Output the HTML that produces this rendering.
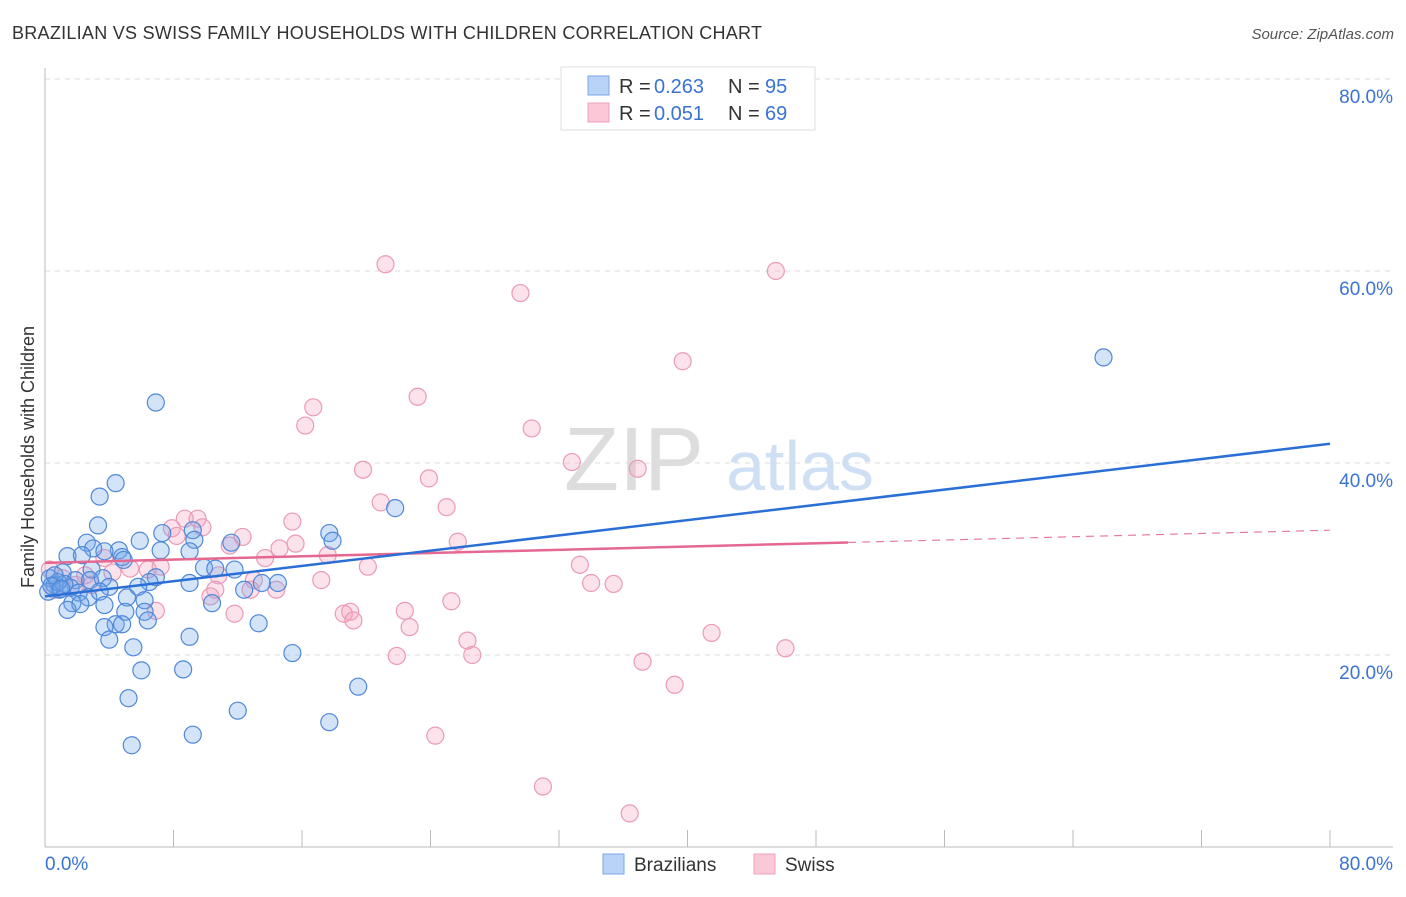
<!DOCTYPE html>
<html><head><meta charset="utf-8"><style>
body{margin:0;background:#fff;font-family:"Liberation Sans",sans-serif}
svg text{font-family:"Liberation Sans",sans-serif}
</style></head><body>
<svg width="1406" height="892" xmlns="http://www.w3.org/2000/svg">
<text x="12" y="39" font-size="18" fill="#333" textLength="750">BRAZILIAN VS SWISS FAMILY HOUSEHOLDS WITH CHILDREN CORRELATION CHART</text>
<text x="1394" y="39" font-size="15" fill="#555" font-style="italic" text-anchor="end">Source: ZipAtlas.com</text>
<text x="634" y="490" font-size="90" fill="#ddd" font-family="Liberation Serif" text-anchor="middle">ZIP</text>
<text x="800" y="490" font-size="70" fill="#cfe0f5" text-anchor="middle">atlas</text>
<g id="grid"></g>
<g id="axes"></g>
<g id="marks"></g>
<text transform="translate(34,457) rotate(-90)" font-size="18" fill="#333" text-anchor="middle">Family Households with Children</text>
<g>
<rect x="561" y="67" width="254" height="63" fill="#fff" stroke="#ddd"/>
<rect x="588" y="76" width="21" height="19" fill="#b9d3f7" stroke="#7aa7e6"/>
<rect x="588" y="103" width="21" height="19" fill="#fbc8d8" stroke="#efa0bb"/>
<text x="619" y="93" font-size="20" fill="#333">R = </text><text x="654" y="93" font-size="20" fill="#3a73d3">0.263</text>
<text x="728" y="93" font-size="20" fill="#333">N = </text><text x="765" y="93" font-size="20" fill="#3a73d3">95</text>
<text x="619" y="120" font-size="20" fill="#333">R = </text><text x="654" y="120" font-size="20" fill="#3a73d3">0.051</text>
<text x="728" y="120" font-size="20" fill="#333">N = </text><text x="765" y="120" font-size="20" fill="#3a73d3">69</text>
</g>
<g>
<rect x="603" y="854" width="21" height="20" fill="#b9d3f7" stroke="#7aa7e6"/>
<text x="634" y="871" font-size="19" fill="#333">Brazilians</text>
<rect x="754" y="854" width="21" height="20" fill="#fbc8d8" stroke="#efa0bb"/>
<text x="785" y="871" font-size="19" fill="#333">Swiss</text>
</g>
</svg>
<script>
const yTicks=[20,40,60,80];
const yTickLabels=["20.0%","40.0%","60.0%","80.0%"];
const xTicks=[0,8,16,24,32,40,48,56,64,72,80];
const blueX=[65.9,6.9,4.4,3.4,21.8,3.3,17.7,7.3,17.9,9.2,9.3,5.9,11.6,2.6,3.0,4.6,3.7,7.2,9.0,1.4,2.3,4.8,4.9,9.9,10.6,11.8,2.9,1.1,6.9,9.0,6.5,14.5,13.5,1.9,2.8,3.6,0.3,0.6,0.9,1.6,4.0,5.8,0.2,12.4,0.8,1.2,2.1,2.7,3.4,5.1,6.2,1.7,2.2,3.7,10.4,1.4,5.0,6.2,6.4,4.4,4.8,3.7,13.3,9.0,4.0,5.5,15.4,6.0,8.6,19.5,5.2,12.0,17.7,9.2,5.4,0.6,0.4,1.0];
const blueY=[51.0,46.3,37.9,36.5,35.3,33.5,32.7,32.7,31.9,33.0,32.0,31.9,31.7,31.7,31.1,30.9,30.8,30.9,30.8,30.3,30.4,30.2,29.9,29.1,29.0,28.9,28.9,28.6,28.1,27.5,27.6,27.5,27.5,27.8,27.8,28.0,28.0,27.3,26.8,27.0,27.1,27.1,26.6,26.8,27.6,27.4,26.5,26.0,26.6,26.0,25.7,25.4,25.3,25.2,25.4,24.7,24.5,24.5,23.6,23.2,23.2,22.9,23.3,21.9,21.6,20.8,20.2,18.4,18.5,16.7,15.5,14.2,13.0,11.7,10.6,28.3,27.2,26.9];
const pinkX=[21.2,45.5,29.6,39.7,23.2,16.7,16.2,30.3,32.8,19.8,36.9,23.9,20.9,25.0,8.7,9.5,15.4,7.9,9.8,8.2,12.3,25.7,15.6,11.5,14.6,17.6,13.7,3.7,33.3,20.1,7.2,5.3,4.2,6.4,0.3,10.8,17.2,13.0,34.0,35.4,2.9,12.8,14.4,10.6,10.3,25.3,19.0,22.4,18.6,11.8,6.9,19.2,22.7,41.5,26.3,26.6,46.1,21.9,37.2,39.2,24.3,31.0,36.4,1.1,1.9,0.6,2.5];
const pinkY=[60.7,60.0,57.7,50.6,46.9,45.8,43.9,43.6,40.1,39.3,39.4,38.4,35.9,35.4,34.2,34.2,33.9,33.2,33.3,32.4,32.3,31.8,31.6,31.4,31.1,30.4,30.1,30.1,29.4,29.2,29.2,29.0,28.6,28.9,28.9,28.3,27.8,27.8,27.5,27.4,27.3,26.8,26.8,26.8,26.1,25.6,24.5,24.6,24.3,24.3,24.6,23.6,22.9,22.3,21.5,20.0,20.7,19.9,19.3,16.9,11.6,6.3,3.5,28.0,27.3,26.8,28.3];
const blueTrend=[26.1,42.0];
const pinkTrend=[29.6,33.0];
const pinkSolidEnd=50;
const X=v=>45+v*1285/80, Y=v=>847-v*9.6;
const NS="http://www.w3.org/2000/svg";
function mk(p,t,a){const e=document.createElementNS(NS,t);for(const k in a)e.setAttribute(k,a[k]);p.appendChild(e);return e;}
const grid=document.getElementById('grid'),axes=document.getElementById('axes'),marks=document.getElementById('marks');
yTicks.forEach((t,i)=>{
 const l=mk(grid,'line',{x1:45,x2:1393,y1:Y(t),y2:Y(t),stroke:'#ddd','stroke-dasharray':'5,5'});
 
 
 const tx=mk(grid,'text',{x:1393,y:Y(t)+24,'font-size':19,fill:'#3a73d3','text-anchor':'end'});
 tx.textContent=yTickLabels[i];
 
 
});
mk(axes,'line',{x1:45,x2:45,y1:68,y2:847,stroke:'#bbb'});
mk(axes,'line',{x1:45,x2:1393,y1:847,y2:847,stroke:'#bbb'});
xTicks.forEach(t=>{const l=mk(axes,'line',{x1:X(t),x2:X(t),y1:830,y2:847,stroke:'#bbb'});
 
 });
const x0=mk(axes,'text',{x:45,y:870,'font-size':19,fill:'#3a73d3'});x0.textContent='0.0%';


const x1=mk(axes,'text',{x:1393,y:870,'font-size':19,fill:'#3a73d3','text-anchor':'end'});x1.textContent='80.0%';


pinkX.forEach((v,i)=>{const c=mk(marks,'circle',{cx:X(v),cy:Y(pinkY[i]),r:8.5,fill:'rgba(245,160,190,0.3)',stroke:'#eb9ab7','stroke-width':1.2});
 
 });
blueX.forEach((v,i)=>{const c=mk(marks,'circle',{cx:X(v),cy:Y(blueY[i]),r:8.5,fill:'rgba(110,165,235,0.3)',stroke:'#4f88d9','stroke-width':1.2});
 
 });
const py=x=>pinkTrend[0]+(pinkTrend[1]-pinkTrend[0])*x/80;
const pd=mk(marks,'line',{x1:X(pinkSolidEnd),y1:Y(py(pinkSolidEnd)),x2:X(80),y2:Y(py(80)),stroke:'#e87aa0','stroke-width':1.2,'stroke-dasharray':'8,6'});


const ps=mk(marks,'line',{x1:X(0),y1:Y(py(0)),x2:X(pinkSolidEnd),y2:Y(py(pinkSolidEnd)),stroke:'#e4688f','stroke-width':2.5});


const bl=mk(marks,'line',{x1:X(0),y1:Y(blueTrend[0]),x2:X(80),y2:Y(blueTrend[1]),stroke:'#2a6fd6','stroke-width':2.5});


</script>
</body></html>
